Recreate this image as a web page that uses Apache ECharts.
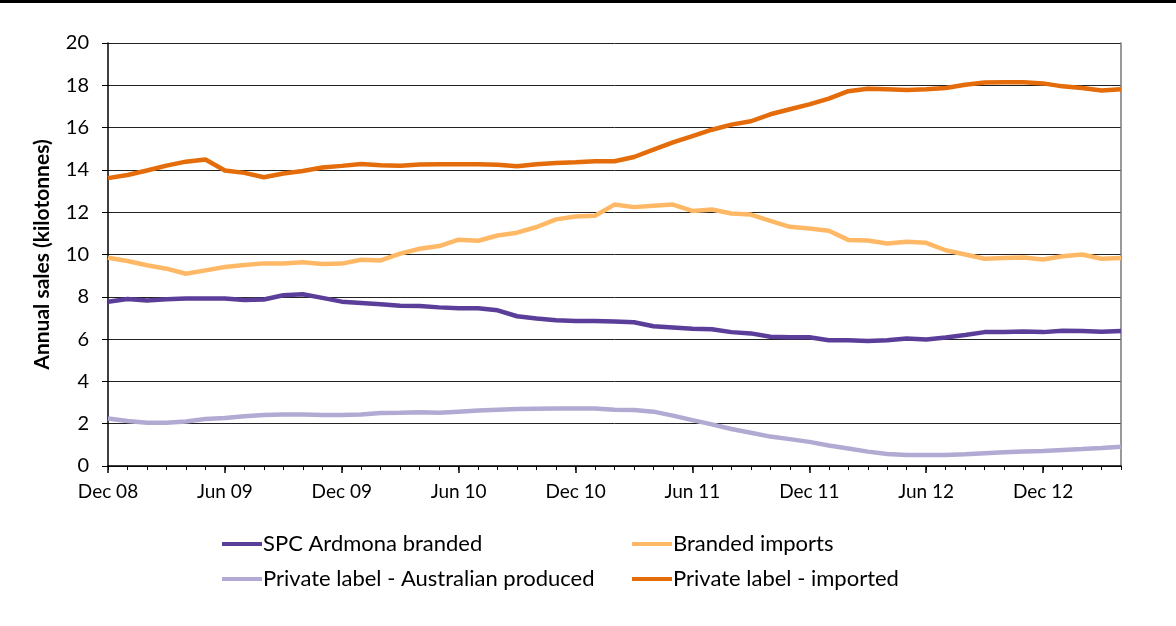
<!DOCTYPE html>
<html>
<head>
<meta charset="utf-8">
<script src="https://cdn.jsdelivr.net/npm/echarts@6/dist/echarts.min.js"></script>
<style>
html,body{margin:0;padding:0;background:#fff;}
#chart{width:1176px;height:626px;}
</style>
</head>
<body>
<div id="chart"></div>
<script>
// Monthly categories Dec 08 .. Apr 13
const months = ["Jan","Feb","Mar","Apr","May","Jun","Jul","Aug","Sep","Oct","Nov","Dec"];
const categories = ["Dec 08"];
for (let y = 9; y <= 13; y++) {
  for (let m = 0; m < 12; m++) {
    if (y === 13 && m > 3) break;
    categories.push(months[m] + " " + (y < 10 ? "0" + y : "" + y));
  }
}

const yTicks = [0, 2, 4, 6, 8, 10, 12, 14, 16, 18, 20];

const spcArdmonaBranded = [7.77,7.90,7.82,7.88,7.92,7.92,7.92,7.85,7.87,8.07,8.12,7.95,7.77,7.71,7.65,7.58,7.57,7.50,7.46,7.46,7.36,7.08,6.97,6.89,6.85,6.85,6.83,6.80,6.61,6.55,6.49,6.47,6.33,6.27,6.11,6.09,6.09,5.95,5.94,5.91,5.95,6.03,5.98,6.08,6.19,6.33,6.33,6.36,6.33,6.39,6.38,6.35,6.38];

const brandedImports = [9.85,9.69,9.49,9.33,9.09,9.25,9.41,9.50,9.58,9.57,9.63,9.55,9.57,9.75,9.72,10.04,10.27,10.40,10.70,10.65,10.90,11.03,11.30,11.66,11.80,11.83,12.36,12.24,12.30,12.36,12.06,12.13,11.94,11.89,11.59,11.31,11.23,11.12,10.69,10.66,10.52,10.60,10.55,10.20,10.00,9.80,9.84,9.86,9.76,9.92,10.00,9.80,9.84];

const privateLabelAus = [2.25,2.13,2.05,2.05,2.10,2.22,2.27,2.35,2.41,2.43,2.43,2.41,2.41,2.43,2.51,2.52,2.54,2.52,2.57,2.62,2.66,2.69,2.71,2.72,2.72,2.72,2.66,2.65,2.57,2.38,2.17,1.97,1.75,1.57,1.39,1.27,1.14,0.97,0.83,0.68,0.57,0.52,0.52,0.52,0.55,0.60,0.65,0.68,0.71,0.76,0.80,0.85,0.91];

const privateLabelImported = [13.61,13.76,13.97,14.20,14.39,14.49,13.97,13.86,13.65,13.83,13.95,14.11,14.19,14.28,14.22,14.20,14.25,14.27,14.27,14.27,14.24,14.17,14.27,14.33,14.36,14.41,14.41,14.61,14.96,15.30,15.60,15.90,16.14,16.30,16.63,16.87,17.10,17.37,17.72,17.84,17.81,17.78,17.81,17.87,18.03,18.13,18.14,18.14,18.09,17.95,17.87,17.75,17.81];

const seriesNames = ["SPC Ardmona branded","Branded imports","Private label - Australian produced","Private label - imported"];
const seriesColors = ["#5B3E99","#FFB966","#B2AAD3","#E46C0A"];
const seriesData = [spcArdmonaBranded, brandedImports, privateLabelAus, privateLabelImported];

const FONT = "Lato, 'Open Sans', sans-serif";
const chart = echarts.init(document.getElementById('chart'), null, {renderer: 'canvas'});

const legendBase = {
  orient: 'vertical', top: 533, itemGap: 13, padding: 0,
  icon: 'rect', itemWidth: 40, itemHeight: 4,
  textStyle: {fontFamily: FONT, fontSize: 22, color: '#000', padding: [0,0,0,-4]}
};

const option = {
  animation: false,
  backgroundColor: '#fff',
  textStyle: {fontFamily: FONT, color: '#000'},
  graphic: [{
    type: 'rect', shape: {x: 0, y: 0, width: 1176, height: 3},
    style: {fill: '#000'}
  }],
  grid: {left: 108, right: 55, top: 43, bottom: 160, containLabel: false},
  legend: [
    Object.assign({}, legendBase, {left: 222, data: [seriesNames[0], seriesNames[2]]}),
    Object.assign({}, legendBase, {left: 632, data: [seriesNames[1], seriesNames[3]]})
  ],
  xAxis: [{
    type: 'category', data: categories, boundaryGap: false,
    axisLine: {lineStyle: {color: '#000', width: 1.5}},
    axisTick: {show: true, interval: 0, length: 4, lineStyle: {color: '#000'}},
    axisLabel: {interval: 5, fontSize: 19, color: '#000', fontFamily: FONT, margin: 16},
    splitLine: {show: false}
  }, {
    type: 'category', data: categories, boundaryGap: false, position: 'bottom',
    axisLine: {show: false},
    axisTick: {show: true, interval: 5, length: 7, lineStyle: {color: '#000', width: 1.5}},
    axisLabel: {show: false},
    splitLine: {show: false}
  }],
  yAxis: [{
    type: 'value', min: yTicks[0], max: yTicks[yTicks.length - 1], interval: 2,
    name: 'Annual sales (kilotonnes)', nameLocation: 'middle', nameGap: 55,
    nameTextStyle: {fontFamily: FONT, fontSize: 21, fontWeight: 'bold', color: '#000'},
    axisLine: {show: true, lineStyle: {color: '#000', width: 1.5}},
    axisTick: {show: true, length: 6, lineStyle: {color: '#000'}},
    axisLabel: {fontSize: 20, color: '#000', fontFamily: FONT, margin: 19},
    splitLine: {show: true, lineStyle: {color: '#222', width: 1}}
  }, {
    type: 'value', min: 0, max: 20, interval: 2, position: 'right',
    axisLine: {show: true, lineStyle: {color: '#777', width: 1.5}},
    axisTick: {show: false}, axisLabel: {show: false}, splitLine: {show: false}
  }],
  series: seriesNames.map((n, k) => ({
    name: n, type: 'line', data: seriesData[k], xAxisIndex: 0, yAxisIndex: 0,
    showSymbol: false, symbol: 'none',
    lineStyle: {color: seriesColors[k], width: 4.5},
    itemStyle: {color: seriesColors[k]},
    z: [3, 2, 1, 4][k]
  }))
};
chart.setOption(option);
</script>
</body>
</html>
